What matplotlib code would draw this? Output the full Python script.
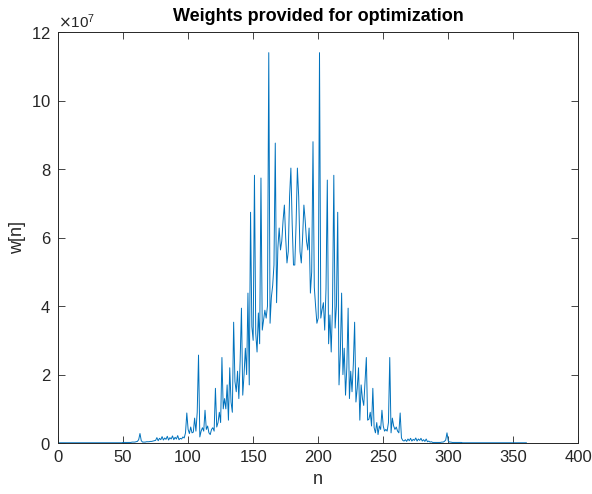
import numpy as np
import matplotlib
matplotlib.use("Agg")
import matplotlib.pyplot as plt
from matplotlib.ticker import ScalarFormatter

# pesos, en unidades de 1e7
w_e7 = [
    # n = 1..58, cola casi nula
    0.01, 0.01, 0.01, 0.01, 0.01, 0.01, 0.01, 0.01, 0.01, 0.01,
    0.01, 0.01, 0.01, 0.01, 0.01, 0.01, 0.01, 0.01, 0.01, 0.01,
    0.01, 0.01, 0.01, 0.01, 0.01, 0.01, 0.01, 0.01, 0.01, 0.01,
    0.01, 0.01, 0.01, 0.01, 0.01, 0.01, 0.01, 0.01, 0.01, 0.01,
    0.01, 0.01, 0.01, 0.01, 0.01, 0.01, 0.01, 0.01, 0.01, 0.02,
    0.02, 0.02, 0.02, 0.02, 0.02, 0.02, 0.03, 0.03,
    # n = 59..74
    0.03, 0.04, 0.05, 0.10, 0.28, 0.07,
    0.03, 0.03, 0.03, 0.04, 0.04, 0.04, 0.05, 0.05, 0.06, 0.07,
    # n = 75..98
    0.08, 0.16, 0.07, 0.14, 0.10, 0.19, 0.09, 0.15, 0.11, 0.20,
    0.09, 0.16, 0.12, 0.21, 0.10, 0.17, 0.12, 0.22, 0.10, 0.14,
    0.12, 0.18, 0.15, 0.30,
    # n = 99..130
    0.88, 0.40, 0.28, 0.47, 0.30, 0.32, 0.73, 0.35, 0.90, 2.57,
    0.18, 0.35, 0.45, 0.35, 0.96, 0.40, 0.50, 0.30, 0.25, 0.40,
    0.45, 0.35, 1.60, 0.47, 0.60, 0.90, 0.60, 2.50, 1.00, 1.30,
    1.00, 1.70,
    # n = 131..160
    0.67, 2.20, 1.20, 0.90, 3.53, 1.80, 1.50, 2.10, 1.30, 2.40,
    3.94, 1.40, 2.00, 2.77, 2.00, 4.38, 1.70, 6.74, 3.40, 3.00,
    7.82, 3.20, 2.66, 3.80, 2.90, 7.74, 3.30, 3.60, 3.88, 3.65,
    # n = 161..200
    4.00, 11.40, 3.50, 4.26, 4.60, 5.20, 8.76, 4.10, 5.70, 6.28,
    5.64, 5.90, 6.50, 6.95, 6.00, 5.26, 5.60, 7.20, 8.03, 6.40,
    5.20, 5.20, 6.40, 8.03, 7.20, 5.60, 5.26, 6.00, 6.95, 6.50,
    5.90, 5.64, 6.28, 4.38, 5.00, 8.80, 4.55, 4.00, 3.50, 3.65,
    # n = 201..230
    11.40, 3.65, 3.90, 4.10, 3.30, 4.50, 7.68, 2.90, 3.74, 2.66,
    4.00, 7.82, 3.36, 4.00, 6.74, 1.70, 2.60, 4.38, 2.00, 2.77,
    1.40, 2.20, 3.94, 1.30, 2.10, 1.50, 2.30, 3.53, 1.20, 1.60,
    # n = 231..265
    2.20, 0.67, 1.70, 1.30, 1.10, 1.80, 2.50, 0.67, 0.70, 0.90,
    0.50, 1.60, 0.45, 0.30, 0.60, 0.25, 0.50, 0.40, 0.96, 0.50,
    0.35, 0.40, 0.35, 0.60, 2.50, 0.30, 0.73, 0.50, 0.40, 0.47,
    0.35, 0.30, 0.88, 0.15, 0.08,
    # n = 266..287
    0.06, 0.10, 0.05, 0.12, 0.07, 0.14, 0.06, 0.11, 0.08, 0.15,
    0.06, 0.12, 0.08, 0.14, 0.06, 0.10, 0.05, 0.12, 0.04, 0.06,
    0.03, 0.04,
    # n = 288..310
    0.02, 0.02, 0.02, 0.02, 0.02, 0.02, 0.02, 0.03, 0.03, 0.05,
    0.09, 0.30, 0.06, 0.03, 0.03, 0.02, 0.02, 0.02, 0.02, 0.02,
    0.02, 0.02, 0.02,
    # n = 311..361, cola casi nula
    0.01, 0.01, 0.01, 0.01, 0.01, 0.01, 0.01, 0.01, 0.01, 0.01,
    0.01, 0.01, 0.01, 0.01, 0.01, 0.01, 0.01, 0.01, 0.01, 0.01,
    0.01, 0.01, 0.01, 0.01, 0.01, 0.01, 0.01, 0.01, 0.01, 0.01,
    0.01, 0.01, 0.01, 0.01, 0.01, 0.01, 0.01, 0.01, 0.01, 0.01,
    0.01, 0.01, 0.01, 0.01, 0.01, 0.01, 0.01, 0.01, 0.01, 0.01,
]

w = np.array(w_e7) * 1e7
n = np.arange(1, len(w) + 1)

x_ticks = [0, 50, 100, 150, 200, 250, 300, 350, 400]
y_ticks = [0, 2e7, 4e7, 6e7, 8e7, 10e7, 12e7]

gris = "#262626"
plt.rcParams["font.family"] = ["Liberation Sans", "DejaVu Sans"]

fig = plt.figure(figsize=(5.92, 4.94), dpi=100)
ax = fig.add_axes([0.098, 0.103, 0.879, 0.832])

ax.plot(n, w, color="#0072BD", linewidth=0.7)

ax.set_xlim(0, 400)
ax.set_ylim(0, 12e7)
ax.set_xticks(x_ticks)
ax.set_yticks(y_ticks)

# exponente fijo 10^7 como en MATLAB
fmt = ScalarFormatter(useMathText=True)
fmt.set_powerlimits((7, 7))
ax.yaxis.set_major_formatter(fmt)
ax.yaxis.get_offset_text().set_fontsize(11)
ax.yaxis.get_offset_text().set_color(gris)

ax.tick_params(direction="in", length=5, width=0.6, colors=gris,
               labelsize=12, top=True, right=True, pad=5)
for s in ax.spines.values():
    s.set_color(gris)
    s.set_linewidth(0.7)

ax.set_title("Weights provided for optimization", fontsize=13,
             fontweight="bold", color="black", pad=8)
ax.set_xlabel("n", fontsize=13, color=gris)
ax.set_ylabel("w[n]", fontsize=13, color=gris)

fig.savefig("out.png", dpi=100)
